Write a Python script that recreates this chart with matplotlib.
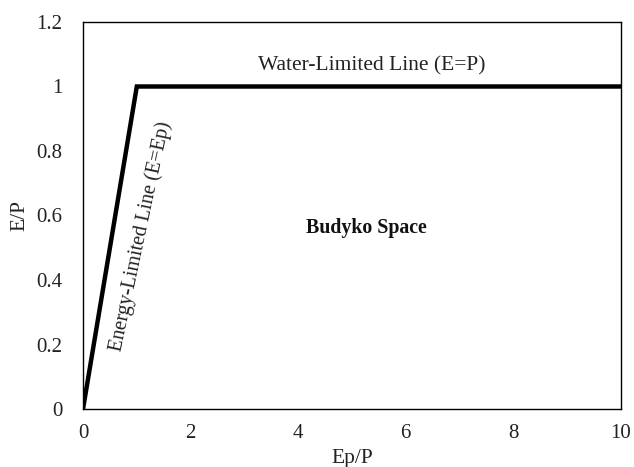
import matplotlib
matplotlib.use("Agg")
import matplotlib.pyplot as plt

plt.rcParams['font.family'] = ['Liberation Serif', 'DejaVu Serif']

# Budyko limits: energy limit up to Ep/P = 1, water limit beyond
ep_p = [0, 1, 10]
e_p = [0, 1, 1]

xticks = [0, 2, 4, 6, 8, 10]
yticks = [0, 0.2, 0.4, 0.6, 0.8, 1, 1.2]
ytick_labels = ['0', '0.2', '0.4', '0.6', '0.8', '1', '1.2']

fig = plt.figure(figsize=(6.34, 4.67), dpi=100)
ax = fig.add_axes([83 / 634, 1 - 409 / 467, (621 - 83) / 634, (409 - 22) / 467])

ax.plot(ep_p, e_p, color='black', linewidth=3.2, solid_joinstyle='miter')

ax.set_xlim(0, 10)
ax.set_ylim(0, 1.2)
ax.set_xticks(xticks)
ax.set_yticks(yticks)
ax.set_yticklabels(ytick_labels)
ax.tick_params(length=0, labelsize=15, colors='#222222')
ax.tick_params(axis='x', pad=11)
ax.tick_params(axis='y', pad=15)
for s in ax.spines.values():
    s.set_color('black')
    s.set_linewidth(1.0)

ax.set_xlabel('Ep/P', fontsize=15.5, labelpad=4, color='#222222')
ax.set_ylabel('E/P', fontsize=15.5, labelpad=5, color='#222222')

ax.text(5.37, 1.065, 'Water-Limited Line (E=P)', fontsize=15.5,
        ha='center', va='center', color='#222222')
ax.text(5.26, 0.56, 'Budyko Space', fontsize=14.3, fontweight='bold',
        ha='center', va='center', color='#111111')
ax.text(1.08, 0.536, 'Energy-Limited Line (E=Ep)', fontsize=14.5,
        rotation=78, rotation_mode='anchor', ha='center', va='center',
        color='#222222')

fig.savefig('out.png', dpi=100)
